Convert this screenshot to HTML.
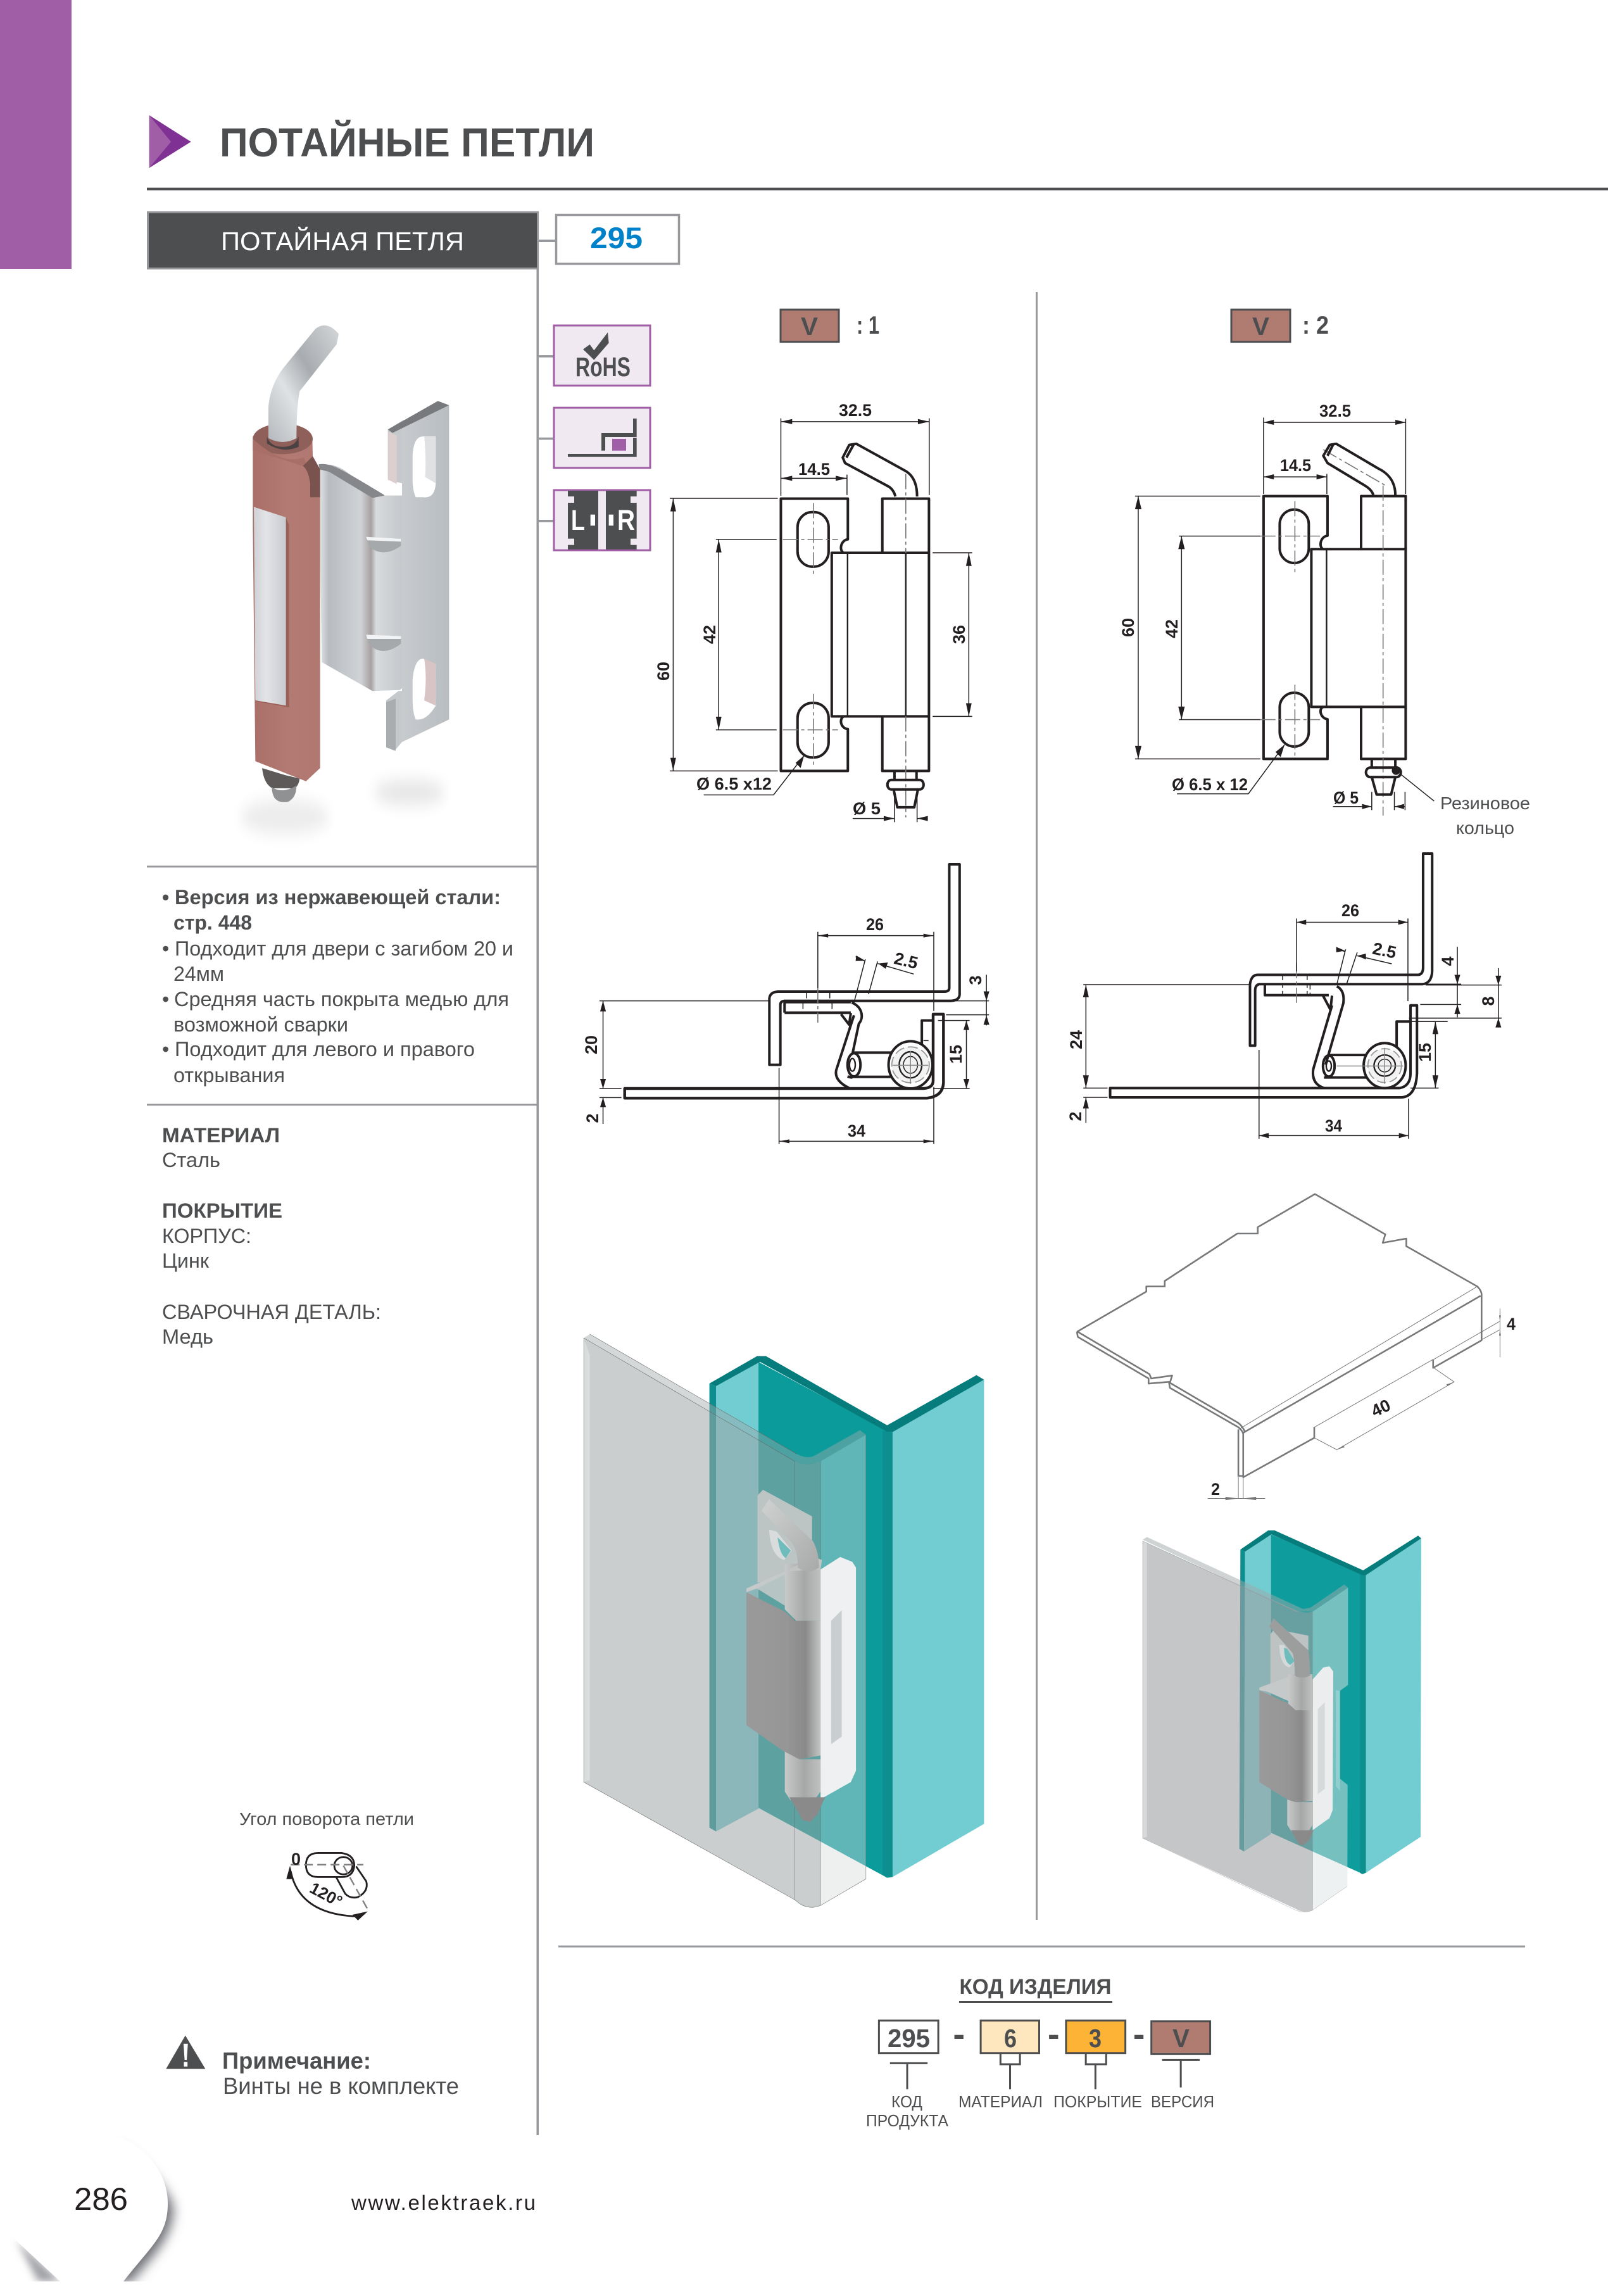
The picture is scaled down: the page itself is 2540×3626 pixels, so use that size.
<!DOCTYPE html>
<html lang="ru"><head><meta charset="utf-8"><title>Потайные петли</title>
<style>
html,body{margin:0;padding:0;background:#fff}
svg{display:block}
text{font-family:"Liberation Sans",sans-serif;fill:#4d4e50}
.d text,text.d{fill:#231f20;font-weight:bold;font-size:27px}
.ns *{vector-effect:non-scaling-stroke}
.k{fill:none;stroke:#231f20;stroke-width:4;stroke-linejoin:round}
.m{fill:none;stroke:#231f20;stroke-width:2.4}
.t{fill:none;stroke:#231f20;stroke-width:1.5}
.g{fill:none;stroke:#777;stroke-width:1.6;stroke-dasharray:24 5 5 5}
.a{fill:#231f20;stroke:none}
.i{fill:none;stroke:#77787a;stroke-width:2.6;stroke-linejoin:round}
.it{fill:none;stroke:#77787a;stroke-width:1}
.n{fill:none;stroke:#4d4e50;stroke-width:3}
</style></head><body>
<svg xmlns="http://www.w3.org/2000/svg" width="2540" height="3626" viewBox="0 0 2540 3626">
<defs>
<linearGradient id="pin" x1="0" y1="1" x2="1" y2="0"><stop offset="0" stop-color="#b4b8bc"/><stop offset=".35" stop-color="#dfe2e4"/><stop offset=".6" stop-color="#a8acb0"/><stop offset="1" stop-color="#d4d6d8"/></linearGradient>
<linearGradient id="pin2" x1="0" y1="0" x2="1" y2="1"><stop offset="0" stop-color="#d0d2d2"/><stop offset=".5" stop-color="#bcbebe"/><stop offset="1" stop-color="#a8aaaa"/></linearGradient>
<linearGradient id="ins" x1="0" y1="0" x2="1" y2="0"><stop offset="0" stop-color="#cfd1d5"/><stop offset=".35" stop-color="#e3e4e7"/><stop offset="1" stop-color="#c3c6cb"/></linearGradient>
<linearGradient id="fl" x1="0" y1="0" x2="1" y2="0"><stop offset="0" stop-color="#e6e8ea"/><stop offset=".12" stop-color="#b8bcc0"/><stop offset=".5" stop-color="#d0d3d6"/><stop offset=".62" stop-color="#a8a0a0"/><stop offset=".68" stop-color="#d8dadc"/><stop offset="1" stop-color="#c4c8cb"/></linearGradient>
<linearGradient id="pl" x1="0" y1="0" x2="1" y2="0"><stop offset="0" stop-color="#c8cbce"/><stop offset="1" stop-color="#b8bdc1"/></linearGradient>
<linearGradient id="cu" x1="0" y1="0" x2="1" y2="0"><stop offset="0" stop-color="#a96f68"/><stop offset=".5" stop-color="#b27a72"/><stop offset="1" stop-color="#b07870"/></linearGradient>
<linearGradient id="cyl" x1="0" y1="0" x2="1" y2="0"><stop offset="0" stop-color="#c8caca"/><stop offset=".55" stop-color="#a6a8a8"/><stop offset="1" stop-color="#c0c2c2"/></linearGradient>
<linearGradient id="bod" x1="0" y1="0" x2="1" y2="0"><stop offset="0" stop-color="#9a9a9a"/><stop offset=".55" stop-color="#969696"/><stop offset=".8" stop-color="#8a8a8a"/><stop offset="1" stop-color="#c4c5c5"/></linearGradient>
<filter id="b1" x="-50%" y="-80%" width="200%" height="260%"><feGaussianBlur stdDeviation="24"/></filter>
<filter id="b2" x="-30%" y="-30%" width="160%" height="160%"><feGaussianBlur stdDeviation="9"/></filter>
<filter id="b3" x="-50%" y="-50%" width="200%" height="200%"><feGaussianBlur stdDeviation="6"/></filter>
<clipPath id="cp"><rect x="0" y="3300" width="400" height="303"/></clipPath>
</defs>

<!-- header -->
<rect x="0" y="0" width="113" height="425" fill="#a05ea6"/>
<g transform="translate(0,0) scale(.7015,.574)">
<polygon points="336,317 430,390 336,462" fill="#7f3294"/>
<polygon points="336,317 385,390 336,462" fill="#a05ea6"/>
</g>
<text x="347" y="247" font-size="64" font-weight="bold" textLength="592" lengthAdjust="spacingAndGlyphs">ПОТАЙНЫЕ ПЕТЛИ</text>
<rect x="232" y="296.500" width="2308" height="4" fill="#4d4e50"/>
<rect x="233.500" y="335" width="616" height="89" fill="#4d4e50" stroke="#97989b" stroke-width="3"/>
<text x="349" y="395" font-size="41" style="fill:#fff" textLength="384" lengthAdjust="spacingAndGlyphs">ПОТАЙНАЯ ПЕТЛЯ</text>
<rect x="850" y="378.500" width="27" height="3.500" fill="#97989b"/>
<rect x="878.500" y="339.500" width="194" height="77" fill="#fff" stroke="#97989b" stroke-width="3.500"/>
<text x="932" y="392" font-size="47" font-weight="bold" style="fill:#0082ca" textLength="83" lengthAdjust="spacingAndGlyphs">295</text>
<rect x="847.500" y="425" width="3.500" height="2947" fill="#97989b"/>
<rect x="850" y="561" width="25" height="3.500" fill="#97989b"/>
<rect x="850" y="691" width="25" height="3.500" fill="#97989b"/>
<rect x="850" y="821" width="25" height="3.500" fill="#97989b"/>

<!-- icons -->
<g stroke="#a05ea6" stroke-width="3" fill="#f1e9f2">
<rect x="875" y="514" width="152" height="95"/><rect x="875" y="644" width="152" height="95"/><rect x="875" y="774" width="152" height="95"/>
</g>
<g transform="translate(860,500) scale(.33333)" fill="#4d4e50">
<polygon points="183,155 215,132 235,160 300,75 305,125 235,205"/>
<path d="M111 651H437V665H111ZM420 575H437V665H420ZM270 552H437V570H270ZM420 483H437V570H420ZM270 552H288V635H270Z"/>
<rect x="321" y="579" width="66" height="56" fill="#a05ea6"/>
<rect x="111" y="825" width="144" height="278"/><rect x="291" y="825" width="146" height="278"/>
<g fill="#f1e9f2"><rect x="111" y="852" width="30" height="30"/><rect x="111" y="1052" width="30" height="30"/><rect x="408" y="852" width="30" height="30"/><rect x="408" y="1052" width="30" height="30"/></g>
<g fill="#fff"><rect x="218" y="938" width="22" height="52"/><rect x="305" y="938" width="22" height="52"/></g>
</g>
<text x="909" y="594" font-size="43" font-weight="bold" textLength="87" lengthAdjust="spacingAndGlyphs">RoHS</text>
<text x="902" y="837" font-size="45" font-weight="bold" style="fill:#fff" textLength="22" lengthAdjust="spacingAndGlyphs">L</text>
<text x="975" y="837" font-size="45" font-weight="bold" style="fill:#fff" textLength="28" lengthAdjust="spacingAndGlyphs">R</text>

<!-- hinge photo -->
<g transform="translate(340,500) scale(.33333,.5485)">
<ellipse cx="330" cy="1440" rx="210" ry="50" fill="#ececec" filter="url(#b1)"/>
<ellipse cx="920" cy="1370" rx="170" ry="36" fill="#e6e6e6" filter="url(#b1)"/>
<path d="M490 430C540 420 590 430 640 455L745 515H890V1075L745 1078L505 995Z" fill="url(#fl)"/>
<path d="M490 425C550 420 600 440 805 515L745 522L540 447L495 440Z" fill="#85878a"/>
<path d="M885 300L1108 255V1160L885 1225Z" fill="url(#pl)"/>
<path d="M818 325L885 300V480L818 470Z" fill="#c5c9cc"/>
<path d="M810 1105L885 1070V1225L850 1250L810 1240Z" fill="#c5c9cc"/>
<polygon points="818,325 1055,243 1108,255 840,335" fill="#77797c"/>
<polygon points="820,332 860,342 860,482 820,470" fill="#dccfce"/>
<polygon points="810,1110 855,1100 855,1250 810,1240" fill="#a9adb0"/>
<path d="M830 495L885 480V515H800Z" fill="#fff"/><path d="M805 1078H885V1070L810 1105Z" fill="#fff"/>
<path d="M935 400Q940 345 985 345H1045V480Q1040 525 985 520L950 520Q935 500 935 470Z" fill="#fff"/>
<path d="M990 345H1045V480L995 462Q1000 400 990 345Z" fill="#dfe1e3"/>
<path d="M935 1045Q945 985 985 985L1045 1000V1120Q1000 1165 950 1160Q935 1140 935 1100Z" fill="#fff"/>
<path d="M990 985L1045 1000V1120L990 1105Q1005 1040 990 985Z" fill="#d8c4c4"/>
<path d="M715 640L880 645V660Q800 695 735 665Z" fill="#a5a9ac"/><path d="M715 634L880 640V648L720 644Z" fill="#f2f3f4"/>
<path d="M715 922L880 925V942Q800 980 735 948Z" fill="#a5a9ac"/><path d="M715 916L880 920V928L720 928Z" fill="#f2f3f4"/>
<path d="M222 1300Q230 1345 270 1358H380Q398 1345 400 1330L330 1320Z" fill="#5f5a5a"/>
<path d="M268 1355Q320 1375 385 1350Q385 1385 345 1397Q300 1402 280 1385Q268 1372 268 1355Z" fill="#8f9193"/>
<path d="M178 345L178 600L190 1280L430 1338L497 1300V440L462 402L460 345Z" fill="url(#cu)"/>
<ellipse cx="320" cy="352" rx="142" ry="44" fill="#8f5f5a"/>
<path d="M178 352Q320 430 420 405L440 440L415 430L178 385Z" fill="#a86f68"/>
<path d="M415 430Q440 440 450 480V520H497V440L462 402Z" fill="#7a534f"/>
<path d="M245 345Q260 375 320 375Q380 375 395 345V375Q320 395 245 365Z" fill="#4a4242"/>
<path d="M252 350L252 260Q260 200 320 150L475 35Q530 10 585 50L575 80L400 215Q385 260 385 350Q320 372 252 350Z" fill="url(#pin)"/>
<path d="M183 548L335 578L350 600L350 1090L335 1120L190 1105Z" fill="url(#ins)"/>
<path d="M335 578L350 600L350 1125L195 1108L190 1105L335 1120Z" fill="#9a5f58"/>
</g>

<!-- bullet text -->
<g font-size="32">
<text x="256" y="1428" font-weight="bold">•</text>
<text x="276" y="1428" font-weight="bold" textLength="515" lengthAdjust="spacingAndGlyphs">Версия из нержавеющей стали:</text>
<text x="274" y="1468" font-weight="bold" textLength="124" lengthAdjust="spacingAndGlyphs">стр. 448</text>
<text x="256" y="1509">•</text>
<text x="276" y="1509" textLength="535" lengthAdjust="spacingAndGlyphs">Подходит для двери с загибом 20 и</text>
<text x="274" y="1549" textLength="80" lengthAdjust="spacingAndGlyphs">24мм</text>
<text x="256" y="1589">•</text>
<text x="275" y="1589" textLength="529" lengthAdjust="spacingAndGlyphs">Средняя часть покрыта медью для</text>
<text x="274" y="1629" textLength="276" lengthAdjust="spacingAndGlyphs">возможной сварки</text>
<text x="256" y="1668">•</text>
<text x="276" y="1668" textLength="474" lengthAdjust="spacingAndGlyphs">Подходит для левого и правого</text>
<text x="274" y="1709" textLength="176" lengthAdjust="spacingAndGlyphs">открывания</text>
<text x="256" y="1804" font-weight="bold" textLength="186" lengthAdjust="spacingAndGlyphs">МАТЕРИАЛ</text>
<text x="256" y="1843" textLength="92" lengthAdjust="spacingAndGlyphs">Сталь</text>
<text x="256" y="1923" font-weight="bold" textLength="190" lengthAdjust="spacingAndGlyphs">ПОКРЫТИЕ</text>
<text x="256" y="1963" textLength="141" lengthAdjust="spacingAndGlyphs">КОРПУС:</text>
<text x="256" y="2002" textLength="74" lengthAdjust="spacingAndGlyphs">Цинк</text>
<text x="256" y="2083" textLength="346" lengthAdjust="spacingAndGlyphs">СВАРОЧНАЯ ДЕТАЛЬ:</text>
<text x="256" y="2122" textLength="81" lengthAdjust="spacingAndGlyphs">Медь</text>
</g>
<rect x="232" y="1367" width="616" height="3" fill="#97989b"/>
<rect x="232" y="1743" width="616" height="3" fill="#97989b"/>

<!-- rotation angle symbol -->
<text x="378" y="2882" font-size="28" textLength="276" lengthAdjust="spacingAndGlyphs">Угол поворота петли</text>
<g class="ns" transform="translate(0,2800) scale(.574,.5268)">
<path class="k" style="stroke-width:2.8" d="M875 240H940Q975 245 975 278Q972 312 940 312H875Q842 312 842 276Q842 240 875 240Z"/>
<path class="k" style="stroke-width:2.8" d="M925 312L950 362Q965 378 985 372Q1015 355 1008 325L980 280"/>
<ellipse class="k" style="stroke-width:2.8" cx="945" cy="278" rx="25" ry="26"/>
<path d="M800 275H1000M945 278L1015 415" fill="none" stroke="#808080" stroke-width="2.400" stroke-dasharray="14 7"/>
<path class="k" style="stroke-width:2.8" d="M800 295Q825 425 985 430"/>
<path class="a" d="M798 278L788 318H808ZM1012 415L970 425L985 442Z"/>
<path fill="#4d4e50" d="M510 787L565 887H457Z"/>
<path fill="#fff" d="M505 812H517L514 860H508ZM506 866H516V880H506Z"/>
</g>
<text x="460" y="2945" class="d" font-size="27">0</text>
<text transform="translate(511,3000) rotate(28)" class="d" text-anchor="middle" style="font-weight:bold;font-size:26px">120°</text>

<text x="351" y="3267" font-size="37" font-weight="bold" textLength="235" lengthAdjust="spacingAndGlyphs">Примечание:</text>
<text x="352" y="3307" font-size="37" textLength="373" lengthAdjust="spacingAndGlyphs">Винты не в комплекте</text>

<!-- page number -->
<g clip-path="url(#cp)">
<path d="M26 3537L96 3603H60Z" fill="#a0a1a6" filter="url(#b3)"/>
<path d="M190 3392C250 3432 276 3478 274 3492C270 3535 246 3558 206 3605H120L150 3400Z" fill="#6d6e75" filter="url(#b2)"/>
<path d="M0 3361H115C205 3361 265 3415 265 3480C265 3530 240 3545 195 3603L95 3603L25 3538L0 3515Z" fill="#fff"/>
</g>
<text x="117" y="3490" font-size="50" style="fill:#231f20" textLength="85" lengthAdjust="spacingAndGlyphs">286</text>
<text x="555" y="3490" font-size="33" style="fill:#231f20" textLength="291" lengthAdjust="spacing">www.elektraek.ru</text>

<!-- divider column -->
<rect x="1636" y="461" width="3" height="2571" fill="#97989b"/>
<rect x="882" y="3072.500" width="1527" height="3" fill="#97989b"/>

<!-- V tags -->
<rect x="1233" y="489" width="92" height="51" fill="#b07c72" stroke="#4d4e50" stroke-width="3"/>
<text x="1265" y="529" font-size="40" font-weight="bold" textLength="27" lengthAdjust="spacingAndGlyphs">V</text>
<text x="1353" y="527" font-size="40" font-weight="bold" textLength="36" lengthAdjust="spacingAndGlyphs">: 1</text>
<rect x="1945" y="489" width="93" height="51" fill="#b07c72" stroke="#4d4e50" stroke-width="3"/>
<text x="1978" y="529" font-size="40" font-weight="bold" textLength="27" lengthAdjust="spacingAndGlyphs">V</text>
<text x="2057" y="527" font-size="40" font-weight="bold" textLength="42" lengthAdjust="spacingAndGlyphs">: 2</text>

<!-- drawing V:1 front -->
<g class="ns" transform="translate(1000,450) scale(.4464,.574)">
<path class="k" d="M745 737C728 730 735 702 760 700V588H523V1337H760V1222C735 1220 728 1195 745 1187"/>
<path class="k" d="M703 737H1047V1187H703ZM882 737V588H1047V737M882 1187V1337H1047V1187"/>
<path class="m" d="M759 737V1187M965 737V1187"/>
<rect class="k" x="582" y="625" width="110" height="150" rx="52" ry="42"/>
<rect class="k" x="582" y="1150" width="110" height="150" rx="52" ry="42"/>
<path class="g" d="M638 600V800M638 1125V1325M530 700H725M530 1224H725M965 520V737M965 1187V1465"/>
<path class="k" d="M928 582C925 570 915 560 905 555L750 490L742 475L765 440L790 437L960 510C985 520 1005 540 1005 582M755 475L780 440"/>
<path class="k" d="M925 1337V1362M1003 1337V1362M922 1388L935 1437H995L1008 1388"/>
<rect class="k" x="900" y="1362" width="128" height="26" rx="13" ry="13"/>
<path class="t" d="M523 367V580M1048 367V578M523 376H1048M757 522V578M523 532H757M130 587H512M130 1337H512M142 587V1337M293 700H508M293 1224H508M303 700V1224M1060 737H1200M1060 1187H1200M1188 737V1187M250 1403H497L605 1295M777 1468H925M925 1400V1478M1005 1400V1478M1005 1468H1042"/>
<path class="a" d="M523 376l40-7v14zM1048 376l-40-7v14zM523 532l40-7v14zM757 532l-40-7v14zM142 587l-10 36h20zM142 1337l-10-36h20zM303 700l-10 36h20zM303 1224l-10-36h20zM1188 737l-10 36h20zM1188 1187l-10-36h20zM605 1295l-12 34-18-14zM925 1468l-38-7v14zM1005 1468l38-7v14z"/>
</g>
<g class="d">
<text x="1325" y="657" textLength="52" lengthAdjust="spacingAndGlyphs">32.5</text>
<text x="1261" y="750" textLength="50" lengthAdjust="spacingAndGlyphs">14.5</text>
<text transform="translate(1057,1060) rotate(-90)" text-anchor="middle">60</text>
<text transform="translate(1130,1002) rotate(-90)" text-anchor="middle">42</text>
<text transform="translate(1524,1002) rotate(-90)" text-anchor="middle">36</text>
<text x="1100" y="1247" textLength="119" lengthAdjust="spacingAndGlyphs">Ø 6.5 x12</text>
<text x="1347" y="1286" textLength="44" lengthAdjust="spacingAndGlyphs">Ø 5</text>
</g>

<!-- drawing V:2 front -->
<g class="ns" transform="translate(1700,450) scale(.5102,.574)">
<path class="k" d="M765 727C750 722 755 692 778 690V581H580V1304H778V1195C755 1192 750 1165 765 1161"/>
<path class="k" d="M728 727H1020V1161H728ZM882 727V581H1020V727M882 1161V1304H1020V1161"/>
<path class="m" d="M775 727V1161"/>
<rect class="k" x="630" y="618" width="90" height="147" rx="45" ry="40"/>
<rect class="k" x="630" y="1122" width="90" height="148" rx="45" ry="40"/>
<path class="g" d="M677 595V790M677 1100V1295M570 691H755M570 1196H755M950 552V1460M765 453L958 552"/>
<path class="k" d="M920 578C915 565 905 558 890 550L778 490L765 470L785 440L805 437L935 505C970 520 988 545 988 578M778 470L795 440"/>
<path class="k" d="M915 1304V1328M988 1304V1328M915 1354L930 1402H975L988 1354"/>
<rect class="k" x="897" y="1328" width="108" height="26" rx="13" ry="13"/>
<ellipse cx="990" cy="1336" rx="13" ry="12" fill="#231f20"/>
<path class="t" d="M1003 1345L1108 1420M580 365V575M1020 368V575M580 378H1020M776 520V575M580 528H776M182 581H570M182 1304H570M192 581V1304M318 691H570M318 1196H570M326 691V1196M312 1400H533L645 1265M795 1435H913M915 1395V1445M985 1395V1445M1018 1395V1445M985 1435H1018"/>
<path class="a" d="M580 378l32-7v14zM1020 378l-32-7v14zM580 528l32-7v14zM776 528l-32-7v14zM192 581l-10 36h20zM192 1304l-10-36h20zM326 691l-10 36h20zM326 1196l-10-36h20zM645 1265l-12 34-16-14zM915 1435l-30-7v14zM985 1435l30-7v14z"/>
</g>
<g class="d">
<text x="2084" y="658" textLength="50" lengthAdjust="spacingAndGlyphs">32.5</text>
<text x="2022" y="744" textLength="49" lengthAdjust="spacingAndGlyphs">14.5</text>
<text transform="translate(1791,991) rotate(-90)" text-anchor="middle">60</text>
<text transform="translate(1860,993) rotate(-90)" text-anchor="middle">42</text>
<text x="1851" y="1248" textLength="120" lengthAdjust="spacingAndGlyphs">Ø 6.5 x 12</text>
<text x="2106" y="1269" textLength="40" lengthAdjust="spacingAndGlyphs">Ø 5</text>
</g>
<text x="2275" y="1278" font-size="28" textLength="142" lengthAdjust="spacingAndGlyphs">Резиновое</text>
<text x="2300" y="1317" font-size="28" textLength="92" lengthAdjust="spacingAndGlyphs">кольцо</text>

<!-- section V:1 -->
<g class="ns" transform="translate(900,1340) scale(.5102,.33333)">
<path class="k" d="M1175 75H1207V690Q1207 720 1180 722H665Q652 724 652 740V1025H618V710Q620 680 645 678H1160Q1175 678 1175 660Z"/>
<path class="k" style="stroke-width:4.400" d="M170 1137H1095Q1125 1135 1125 1100V785H1157V1110Q1155 1175 1105 1183H170Z"/>
<path class="k" d="M665 728H870M665 778H870M665 728V778M873 730C905 750 912 800 895 830L875 975M880 790L825 1050Q818 1100 865 1135M860 1080Q868 1085 875 1085M840 785L865 835L870 780"/>
<path class="t" style="stroke-dasharray:10 6" d="M733 680V722M805 680V722M722 730V778M812 730V778"/>
<path class="g" d="M768 660V825"/>
<path class="k" d="M875 967H1060M868 1082H1060M1125 815H1090V940"/>
<ellipse class="k" cx="880" cy="1025" rx="20" ry="55"/><ellipse class="m" cx="875" cy="1025" rx="9" ry="30"/>
<ellipse class="k" cx="1055" cy="1025" rx="68" ry="112" style="fill:#fff"/>
<ellipse cx="1055" cy="1025" rx="58" ry="85" fill="#f2f2f2" stroke="#999" stroke-width="1.800" stroke-dasharray="16 6"/>
<ellipse class="m" cx="1055" cy="1025" rx="35" ry="62"/><ellipse class="t" cx="1055" cy="1025" rx="22" ry="40"/>
<path class="t" style="stroke:#888" d="M1000 1027H1110M1055 960V1115"/>
<path class="t" style="stroke-dasharray:8 6" d="M1095 910H1125"/>
<path class="t" d="M768 395V660M1127 395V770M768 413H1127M915 525L880 730M953 535L925 690M885 512L915 535M953 545L1065 595M1290 598V838M1165 788H1298M1125 722H1298M1140 815H1238M1125 1137H1238M1228 815V1137M92 722H620M92 1137H160M92 1180H160M103 722V1137M103 1180V1305M648 1040V1400M1127 1130V1400M648 1387H1127"/>
<path class="a" d="M768 413l32-9v18zM1127 413l-32-9v18zM915 532L887 507L885 533ZM955 545L985 540L978 570ZM1290 722l-9-45h18zM1290 790l-9 45h18zM1228 815l-9 45h18zM1228 1137l-9-45h18zM103 722l-9 50h18zM103 1137l-9-45h18zM103 1180l-9 45h18zM648 1387l32-9v18zM1127 1387l-32-9v18z"/>
</g>
<g class="d">
<text x="1368" y="1469" textLength="28" lengthAdjust="spacingAndGlyphs">26</text>
<text transform="translate(1429,1526) rotate(14)" text-anchor="middle">2.5</text>
<text transform="translate(1550,1548) rotate(-90)" text-anchor="middle">3</text>
<text transform="translate(1519,1665) rotate(-90)" text-anchor="middle">15</text>
<text transform="translate(943,1650) rotate(-90)" text-anchor="middle">20</text>
<text transform="translate(945,1766) rotate(-90)" text-anchor="middle">2</text>
<text x="1339" y="1795" textLength="28" lengthAdjust="spacingAndGlyphs">34</text>
</g>

<!-- section V:2 + iso plate -->
<g class="ns" transform="translate(1650,1340) scale(.5102,.6696)">
<path class="k" d="M1172 12H1200V290Q1198 318 1170 320H665Q652 322 652 335V465H636V320Q640 298 660 298H1155Q1172 298 1172 280Z"/>
<path class="k" d="M203 565H1100Q1133 560 1133 530V370H1153V530Q1150 585 1105 587H203Z"/>
<path class="k" d="M682 322V346H880M905 325Q930 335 925 365L870 510M890 370L832 520Q825 555 865 565M862 347L885 380L890 347"/>
<path class="t" style="stroke-dasharray:7 5" d="M737 300V346M813 300V346M822 322V346"/>
<path class="g" d="M780 270V365"/>
<path class="k" d="M880 487H1000M865 540H1000M1133 408H1090V470"/>
<ellipse class="k" cx="880" cy="513" rx="18" ry="25"/><ellipse class="m" cx="880" cy="513" rx="8" ry="12"/>
<ellipse class="k" cx="1053" cy="512" rx="65" ry="53" style="fill:#fff"/>
<ellipse cx="1053" cy="512" rx="52" ry="40" fill="#f2f2f2" stroke="#999" stroke-width="1.800" stroke-dasharray="14 6"/>
<ellipse class="m" cx="1053" cy="512" rx="33" ry="25"/><ellipse class="t" cx="1053" cy="512" rx="20" ry="15"/>
<path class="t" style="stroke:#888" d="M905 513H1110M1053 470V555"/>
<path class="t" d="M780 165V290M1125 165V360M780 174H1125M932 238L905 320M968 245L935 320M903 237L930 243M968 253L1075 272M1278 232V398M1163 368H1290M1130 320H1290M1405 282V422M1180 322H1415M1128 400H1415M1090 408H1248M1133 565H1220M1210 408V565M120 321H640M120 565H195M120 587H195M128 321V565M128 587V647M664 475V685M1127 590V685M664 677H1127"/>
<path class="a" d="M780 174l30-6v12zM1125 174l-30-6v12zM930 241L903 232L903 245ZM968 253L995 248L995 262ZM1278 320l-9-22h18zM1278 368l-9 22h18zM1405 322l-9-22h18zM1405 400l-9 22h18zM1210 408l-9 30h18zM1210 565l-9-30h18zM128 321l-9 30h18zM128 565l-9-30h18zM128 587l-9 26h18zM664 677l30-6v12zM1127 677l-30-6v12z"/>
<path class="i" d="M100 1140L315 1045V1033H372V1020L597 908H660V893L837 815L1055 910L1047 930L1120 920V938L1340 1033Q1355 1045 1353 1055V1160L1203 1225V1205M835 1365V1390L615 1483V1378M615 1378L1350 1055M100 1140L103 1152L322 1250V1262L385 1258L388 1272L600 1365Q615 1375 615 1382M103 1140L325 1240L330 1250L395 1243L388 1260L600 1355Q612 1362 620 1375M600 1370V1480H615"/>
<path class="it" d="M605 1368L1340 1033M835 1365L1203 1205M600 1483V1533M615 1483V1533M505 1533H683M1410 1085V1200M1205 1205L1410 1115M1350 1160L1410 1135M835 1390L905 1418L1268 1258L1205 1225"/>
<path fill="#77787a" d="M600 1533l-40-4v8zM615 1533l40-4v8zM905 1418l24-6-4-4zM1268 1258l-24 6 4 4zM1410 1115l-3-14h6zM1410 1135l-3 14h6z"/>
</g>
<g class="d">
<text x="2119" y="1447" textLength="28" lengthAdjust="spacingAndGlyphs">26</text>
<text transform="translate(2185,1510) rotate(12)" text-anchor="middle">2.5</text>
<text transform="translate(2296,1518) rotate(-90)" text-anchor="middle">4</text>
<text transform="translate(2360,1581) rotate(-90)" text-anchor="middle">8</text>
<text transform="translate(2260,1662) rotate(-90)" text-anchor="middle">15</text>
<text transform="translate(1709,1642) rotate(-90)" text-anchor="middle">24</text>
<text transform="translate(1708,1763) rotate(-90)" text-anchor="middle">2</text>
<text x="2093" y="1787" textLength="27" lengthAdjust="spacingAndGlyphs">34</text>
<text x="1913" y="2361" textLength="14" lengthAdjust="spacingAndGlyphs">2</text>
<text x="2380" y="2100" textLength="14" lengthAdjust="spacingAndGlyphs">4</text>
<text transform="translate(2185,2232) rotate(-25)" text-anchor="middle">40</text>
</g>

<!-- assembly 1 -->
<g transform="translate(880,2080) scale(.4783,.5995)">
<polygon points="525,182 665,120 665,1295 525,1355" fill="#72cdd2"/>
<polygon points="665,118 1090,300 1090,1477 665,1293" fill="#0c9b9b"/>
<polygon points="1108,300 1410,165 1410,1335 1108,1475" fill="#72cdd2"/>
<polygon points="1075,300 1108,300 1108,1475 1090,1477 1075,1470" fill="#0d8f90"/>
<polygon points="503,175 660,103 690,103 1090,285 1385,153 1410,165 1110,302 1090,302 670,118 525,182" fill="#067c7c"/>
<polygon points="503,175 525,182 525,1355 503,1345" fill="#0d8f90"/>
<path d="M88 55L785 380Q825 395 870 380V1550Q825 1565 785 1535L88 1225Z" fill="#a0a5a5" fill-opacity=".55"/>
<polygon points="108,100 88,55 88,1225 108,1220" fill="#fff" fill-opacity=".3"/>
<polygon points="870,380 1020,310 1020,1480 870,1550" fill="#d7dcdc" fill-opacity=".42"/>
<path d="M88 55L108 45L790 360Q825 375 850 365L1000 298L1020 310L870 380Q825 395 785 380Z" fill="#a0a8a8" fill-opacity=".45"/>
<path d="M88 55L785 380V1535M870 380V1550M1020 310V1480L870 1550Q825 1565 785 1535L88 1225V55M108 45L790 360" fill="none" stroke="#666" stroke-width="1"/>
<polygon points="662,470 680,455 842,525 842,680 662,700" fill="#bcc4c4"/>
<path d="M700 560Q705 630 750 640L775 615L725 565Z" fill="#d8dcdc"/>
<path d="M728 580Q735 625 755 635L772 615Z" fill="#6fbcbc"/>
<polygon points="870,665 935,632 975,645 987,660 987,1195 970,1225 870,1270" fill="#eef0f2"/>
<polygon points="905,800 940,772 940,1105 905,1125" fill="#c9ced0"/>
<polygon points="625,715 752,670 752,760 660,715 625,725" fill="#c6c9c9"/>
<polygon points="660,715 752,678 752,760" fill="#b7c4c4"/>
<path d="M625 725L750 775L785 800H870V1155L800 1165L750 1145L625 1075Z" fill="url(#bod)"/>
<path d="M752 670V770L790 800H870V650H752Z" fill="url(#cyl)"/>
<path d="M752 1145L800 1165H870V1250L850 1272H770L752 1250Z" fill="url(#cyl)"/>
<path d="M870 665L752 670L790 655L840 630L875 640Z" fill="#c2c4c4"/>
<path d="M675 510L700 480L845 590Q865 620 865 660Q830 680 795 660Q795 610 770 590Z" fill="url(#pin2)"/>
<path d="M767 1265H885L860 1310L835 1330L810 1325L790 1295Z" fill="#8a8a8a"/>
</g>

<!-- assembly 2 -->
<g transform="translate(1780,2400) scale(.33333,.4209)">
<polygon points="560,120 683,55 683,1180 555,1245" fill="#72cdd2"/>
<polygon points="683,55 1120,205 1120,1330 683,1175" fill="#0e9c9d"/>
<polygon points="1133,205 1395,70 1392,1190 1133,1325" fill="#72cdd2"/>
<polygon points="1105,205 1133,205 1133,1325 1115,1330 1105,1325" fill="#0d8f90"/>
<polygon points="538,112 670,40 700,40 1120,190 1380,60 1395,70 1133,208 1115,208 685,55 560,120" fill="#067c7c"/>
<polygon points="538,112 560,120 555,1245 533,1235" fill="#0d8f90"/>
<path d="M75 80L800 340Q840 352 880 345V1465Q840 1480 800 1460L75 1195Z" fill="#a0a3a5" fill-opacity=".62"/>
<polygon points="75,80 95,90 95,1190 75,1195" fill="#fff" fill-opacity=".35"/>
<polygon points="880,345 1048,255 1048,620 1010,642 1010,972 1046,995 1045,1375 880,1465" fill="#dde4e4" fill-opacity=".5"/>
<polygon points="990,640 1010,642 1010,972 1010,1018 990,1000" fill="#8fcfd0"/>
<polygon points="75,75 95,65 835,335 870,330 1030,243 1048,255 880,345 800,345" fill="#a0a8a8" fill-opacity=".5"/>
<polygon points="680,430 700,410 860,435 860,610 680,620" fill="#bdc3c3"/>
<path d="M722 470Q725 545 770 555L795 530L745 470Z" fill="#d5d8d8"/>
<path d="M745 480Q745 535 775 545L795 530L760 485Z" fill="#6fbcbc"/>
<polygon points="880,600 930,555 960,550 978,570 975,1090 960,1120 880,1165" fill="#ecedef"/>
<polygon points="905,710 938,685 938,1010 905,1030" fill="#d6dadb"/>
<polygon points="628,630 765,590 765,680 665,645 628,640" fill="#c6c9c9"/>
<path d="M628 640L765 690L800 715H880V1055L800 1060L760 1050L628 985Z" fill="url(#bod)"/>
<path d="M765 590V690L800 715H880V580H765Z" fill="url(#cyl)"/>
<path d="M760 1050L800 1060H880V1145L860 1170H780L760 1145Z" fill="url(#cyl)"/>
<path d="M675 400L695 370L860 490Q868 530 868 585Q830 600 795 585Q795 520 785 500Z" fill="#9c9e9e"/>
<path d="M778 1165H885L862 1205L835 1222L815 1218L795 1190Z" fill="#8a8a8a"/>
<path d="M75 80L800 345M880 345V1465M75 80V1195L800 1465Q840 1480 880 1465L1045 1375" fill="none" stroke="#8a8a8a" stroke-width="1"/>
</g>

<!-- product code -->
<text x="1515.500" y="3149" font-size="34" font-weight="bold" textLength="240" lengthAdjust="spacingAndGlyphs">КОД ИЗДЕЛИЯ</text>
<rect x="1515" y="3160" width="242" height="3" fill="#4d4e50"/>
<g class="ns" transform="translate(1300,3060) scale(.4464,.33333)">
<rect class="n" x="198" y="393" width="210" height="155" style="fill:#fff"/>
<rect class="n" x="558" y="393" width="207" height="155" style="fill:#fee7bf"/>
<rect class="n" x="860" y="393" width="210" height="155" style="fill:#fdb436"/>
<rect class="n" x="1162" y="396" width="208" height="155" style="fill:#b07c72"/>
<g fill="#4d4e50"><rect x="465" y="461" width="32" height="19"/><rect x="800" y="461" width="32" height="19"/><rect x="1102" y="461" width="32" height="19"/></g>
<path class="n" d="M237 595H370M298 595V718M628 550V600H697V550M662 600V718M930 550V600H1002V550M964 600V718M1200 580H1333M1266 580V710"/>
</g>
<g font-weight="bold" font-size="41">
<text x="1402" y="3233" textLength="67" lengthAdjust="spacingAndGlyphs">295</text>
<text x="1586" y="3233" textLength="20" lengthAdjust="spacingAndGlyphs">6</text>
<text x="1720" y="3233" textLength="20" lengthAdjust="spacingAndGlyphs">3</text>
<text x="1852" y="3233" textLength="27" lengthAdjust="spacingAndGlyphs">V</text>
</g>
<g font-size="26">
<text x="1408" y="3328" textLength="49" lengthAdjust="spacingAndGlyphs">КОД</text>
<text x="1368" y="3358" textLength="130" lengthAdjust="spacingAndGlyphs">ПРОДУКТА</text>
<text x="1514" y="3328" textLength="133" lengthAdjust="spacingAndGlyphs">МАТЕРИАЛ</text>
<text x="1664" y="3328" textLength="140" lengthAdjust="spacingAndGlyphs">ПОКРЫТИЕ</text>
<text x="1818" y="3328" textLength="100" lengthAdjust="spacingAndGlyphs">ВЕРСИЯ</text>
</g>
</svg>
</body></html>
